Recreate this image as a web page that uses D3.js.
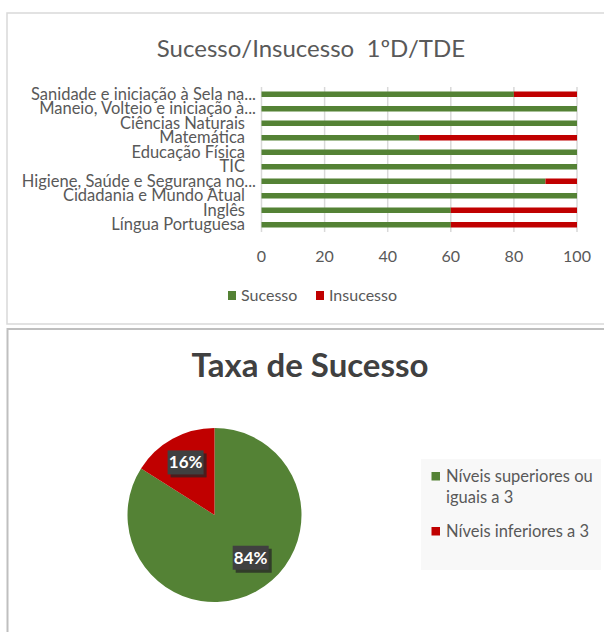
<!DOCTYPE html>
<html>
<head>
<meta charset="utf-8">
<script src="https://cdn.jsdelivr.net/npm/d3@7"></script>
<style>
  body { margin: 0; background: #fff; }
  svg { display: block; font-family: Lato, "Open Sans", sans-serif; }
</style>
</head>
<body>
<script>
// bar chart data (bottom to top as drawn)
var categories = ["Língua Portuguesa", "Inglês", "Cidadania e Mundo Atual",
  "Higiene, Saúde e Segurança no...", "TIC", "Educação Física", "Matemática",
  "Ciências Naturais", "Maneio, Volteio e iniciação à...", "Sanidade e iniciação à Sela na..."];
var sucesso   = [60, 60, 100, 90, 100, 100, 50, 100, 100, 80];
var insucesso = [40, 40, 0, 10, 0, 0, 50, 0, 0, 20];
var xTicks = [0, 20, 40, 60, 80, 100];
var seriesNames = ["Sucesso", "Insucesso"];

// pie data
var pieLabels = ["Níveis superiores ou|iguais a 3", "Níveis inferiores a 3"];
var pieValues = [84, 16];

var green = "#548235", red = "#c00000", grey = "#595959";

var svg = d3.select("body").append("svg")
  .attr("width", 604).attr("height", 632);

// ---------- top chart ----------
svg.append("rect").attr("x", 7).attr("y", 13).attr("width", 610).attr("height", 311)
  .attr("fill", "#fff").attr("stroke", "#d9d9d9").attr("stroke-width", 1.5);

svg.append("text").attr("x", 311).attr("y", 57).attr("text-anchor", "middle")
  .attr("fill", grey).style("font-size", "24px").style("white-space", "pre")
  .text("Sucesso/Insucesso  1ºD/TDE");

var x = d3.scaleLinear().domain([0, 100]).range([261.5, 577]);
var y = d3.scaleBand().domain(categories.slice().reverse()).range([87, 232])
  .paddingInner(0.62).paddingOuter(0.31);

// gridlines
svg.append("g").selectAll("line").data(xTicks).enter().append("line")
  .attr("x1", function(d) { return x(d); }).attr("x2", function(d) { return x(d); })
  .attr("y1", 87).attr("y2", 232)
  .attr("stroke", "#d9d9d9").attr("stroke-width", 1.5);

// tick labels
svg.append("g").selectAll("text").data(xTicks).enter().append("text")
  .attr("x", function(d) { return x(d); }).attr("y", 262)
  .attr("text-anchor", "middle").attr("fill", grey).style("font-size", "16px")
  .text(function(d) { return d; });

// category labels
svg.append("g").selectAll("text").data(categories).enter().append("text")
  .attr("x", function(d) { return d.slice(-3) == "..." ? 256 : 245; })
  .attr("y", function(d) { return y(d) + y.bandwidth() / 2 + 5.5; })
  .attr("text-anchor", "end").attr("fill", grey).style("font-size", "16.5px")
  .text(function(d) { return d; });

// stacked bars
var rows = categories.map(function(c, i) { return { cat: c, s: sucesso[i], f: insucesso[i] }; });
var bars = svg.append("g");
bars.selectAll(".ok").data(rows).enter().append("rect")
  .attr("x", x(0)).attr("y", function(d) { return y(d.cat); })
  .attr("width", function(d) { return x(d.s) - x(0); })
  .attr("height", y.bandwidth()).attr("fill", green);
bars.selectAll(".ko").data(rows).enter().append("rect")
  .attr("x", function(d) { return x(d.s); }).attr("y", function(d) { return y(d.cat); })
  .attr("width", function(d) { return x(d.s + d.f) - x(d.s); })
  .attr("height", y.bandwidth()).attr("fill", red);

// legend
var leg = svg.append("g");
var legX = [228, 316];
seriesNames.forEach(function(name, i) {
  leg.append("rect").attr("x", legX[i]).attr("y", 291).attr("width", 8).attr("height", 9)
    .attr("fill", i == 0 ? green : red);
  leg.append("text").attr("x", legX[i] + 13).attr("y", 301).attr("fill", grey)
    .style("font-size", "16px").text(name);
});

// ---------- pie chart ----------
svg.append("rect").attr("x", 7.5).attr("y", 329).attr("width", 610).attr("height", 320)
  .attr("fill", "#fff").attr("stroke", "#bfbfbf").attr("stroke-width", 2);

svg.append("text").attr("x", 310).attr("y", 377).attr("text-anchor", "middle")
  .attr("fill", "#404040").style("font-size", "33px").style("font-weight", "bold")
  .text("Taxa de Sucesso");

var cx = 214.5, cy = 515, r = 87;
var pie = d3.pie().sort(null)(pieValues);
var arc = d3.arc().innerRadius(0).outerRadius(r);
var pg = svg.append("g").attr("transform", "translate(" + cx + "," + cy + ")");
pg.selectAll("path").data(pie).enter().append("path")
  .attr("d", arc).attr("fill", function(d, i) { return i == 0 ? green : red; });

// label radius per slice (Excel best fit puts the big one a bit further in)
var labelR = [56, 60];
var lbl = pg.selectAll(".lbl").data(pie).enter().append("g")
  .attr("transform", function(d, i) {
    var a = (d.startAngle + d.endAngle) / 2 - (i == 0 ? 0.2 : 0);
    return "translate(" + (Math.sin(a) * labelR[i]) + "," + (-Math.cos(a) * labelR[i]) + ")";
  });
lbl.append("rect").attr("x", -15).attr("y", -9).attr("width", 36).attr("height", 24)
  .attr("fill", "#262626").attr("opacity", 0.75);
lbl.append("rect").attr("x", -18).attr("y", -12).attr("width", 36).attr("height", 24)
  .attr("fill", "#404040");
lbl.append("text").attr("text-anchor", "middle").attr("y", 6)
  .attr("fill", "#fff").style("font-size", "17px").style("font-weight", "bold")
  .text(function(d) { return d.value + "%"; });

// pie legend
svg.append("rect").attr("x", 421).attr("y", 459).attr("width", 180).attr("height", 111)
  .attr("fill", "#f8f8f8");
var legY = [472, 527];
pieLabels.forEach(function(name, i) {
  svg.append("rect").attr("x", 431.5).attr("y", legY[i]).attr("width", 8.5).attr("height", 8.5)
    .attr("fill", i == 0 ? green : red);
  var t = svg.append("text").attr("x", 446).attr("y", legY[i] + 10).attr("fill", grey)
    .style("font-size", "16.5px");
  name.split("|").forEach(function(part, j) {
    t.append("tspan").attr("x", 446).attr("dy", j == 0 ? 0 : 21).text(part);
  });
});
</script>
</body>
</html>
